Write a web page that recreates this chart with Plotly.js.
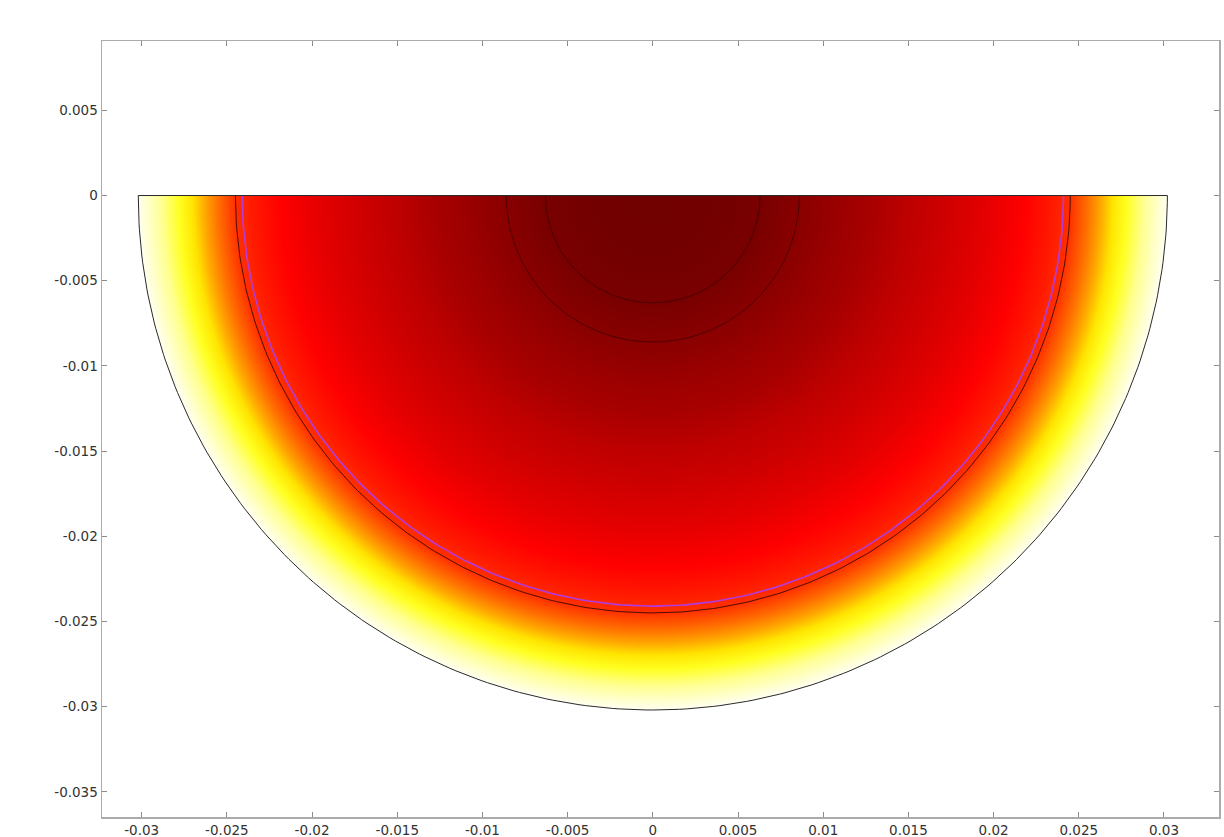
<!DOCTYPE html>
<html>
<head>
<meta charset="utf-8">
<script src="https://cdn.plot.ly/plotly-3.0.1.min.js"></script>
<style>
html,body{margin:0;padding:0;background:#ffffff;}
#chart{width:1224px;height:837px;}
</style>
</head>
<body>
<div id="chart"></div>
<script>
// ---- data (metres) ----
const outerRadius = 0.0302;                 // outer boundary of the half disk
const boundaryRadii = [0.0245];             // black internal boundary
const interfaceRadii = [0.0241];            // purple interface
const coreRadii = [0.0086, 0.0063];         // faint inner boundaries
// colour (temperature) profile along the radius
const profileRadius = [0, 0.0040, 0.0065, 0.0085, 0.0110, 0.0128, 0.0150, 0.0168, 0.0195, 0.0218, 0.0235, 0.0245, 0.0255, 0.0263, 0.0270, 0.0278, 0.0288, 0.0302];
const profileColor  = ['#700000','#740000','#7a0000','#880000','#9c0000','#a80000','#be0000','#cc0000','#e40000','#ff0000','#ff1a00','#ff3000','#ff6e00','#ffa800','#ffe400','#ffff20','#ffff90','#fffff2'];
// axis ticks
const xTickVals = [-0.03,-0.025,-0.02,-0.015,-0.01,-0.005,0,0.005,0.01,0.015,0.02,0.025,0.03];
const xTickText = ['-0.03','-0.025','-0.02','-0.015','-0.01','-0.005','0','0.005','0.01','0.015','0.02','0.025','0.03'];
const yTickVals = [0.005,0,-0.005,-0.01,-0.015,-0.02,-0.025,-0.03,-0.035];
const yTickText = ['0.005','0','-0.005','-0.01','-0.015','-0.02','-0.025','-0.03','-0.035'];

// ---- geometry helpers ----
function lowerArc(r){
  const xs=[], ys=[];
  const n=240;
  for(let i=0;i<=n;i++){
    const t=Math.PI+Math.PI*i/n;
    xs.push(r*Math.cos(t)); ys.push(r*Math.sin(t));
  }
  return {x:xs,y:ys};
}

const traces=[];
// gradient-filled half disk; a zero-area spike makes the bounding box symmetric about the centre
{
  const a=lowerArc(outerRadius);
  const xs=a.x.concat([0,0,0]);
  const ys=a.y.concat([0,outerRadius,0]);
  traces.push({
    type:'scatter', mode:'lines', x:xs, y:ys, fill:'toself',
    line:{width:0,color:'rgba(0,0,0,0)'},
    fillgradient:{type:'radial', colorscale: profileRadius.map((r,i)=>[r/outerRadius, profileColor[i]])},
    hoverinfo:'skip', showlegend:false
  });
}
function arcTrace(r,color,width,closeTop){
  const a=lowerArc(r);
  const xs=a.x.slice(), ys=a.y.slice();
  if(closeTop){ xs.push(-r); ys.push(0); }
  return {type:'scatter',mode:'lines',x:xs,y:ys,line:{color:color,width:width},hoverinfo:'skip',showlegend:false};
}
coreRadii.forEach(r=>traces.push(arcTrace(r,'rgba(30,0,0,0.55)',1,false)));
boundaryRadii.forEach(r=>traces.push(arcTrace(r,'rgba(20,0,0,0.75)',1,false)));
interfaceRadii.forEach(r=>traces.push(arcTrace(r,'#b03ce0',1.6,false)));
traces.push(arcTrace(outerRadius,'#2a2a2a',1,true));

const axisCommon = {
  showgrid:false, zeroline:false, showline:true, linecolor:'#ababab', linewidth:1.5,
  mirror:'ticks', ticks:'inside', ticklen:5, tickwidth:1, tickcolor:'#8a8a8a',
  tickfont:{family:'DejaVu Sans, sans-serif', size:13.5, color:'#333333'},
  tickmode:'array', fixedrange:true
};
const layout = {
  width:1224, height:837,
  margin:{l:102, r:5, t:41, b:20},
  paper_bgcolor:'#ffffff', plot_bgcolor:'#ffffff',
  showlegend:false, hovermode:false,
  xaxis:Object.assign({}, axisCommon, {range:[-0.03233,0.03323], tickvals:xTickVals, ticktext:xTickText}),
  yaxis:Object.assign({}, axisCommon, {range:[-0.03648,0.00907], tickvals:yTickVals, ticktext:yTickText})
};
Plotly.newPlot('chart', traces, layout, {displayModeBar:false, staticPlot:true});
</script>
</body>
</html>
